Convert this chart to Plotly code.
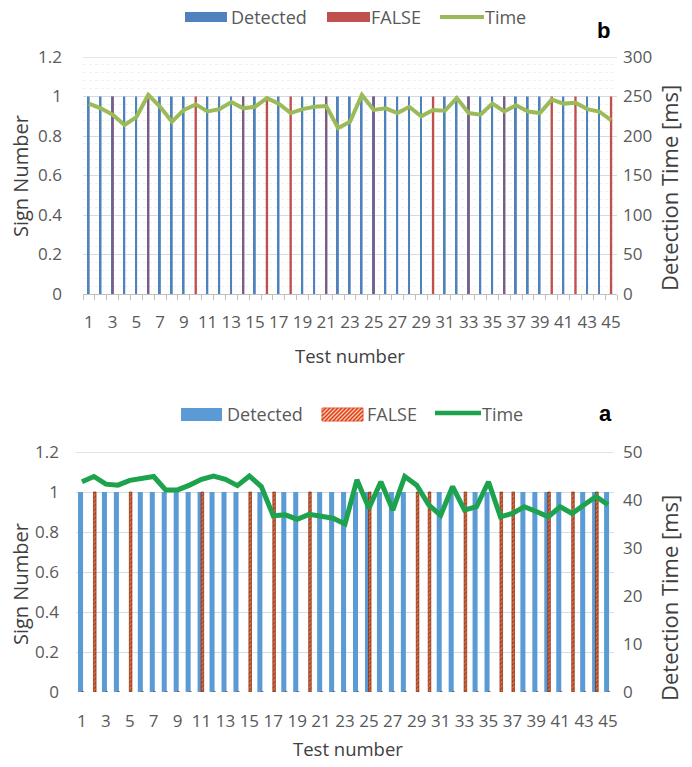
import plotly.graph_objects as go

# ---------------- data ----------------
tests = list(range(1, 46))
tick_labels = [str(n) for n in range(1, 46, 2)]

# panel b
b_detected = [1, 1, 1, 1, 1, 1, 1, 1, 1, 0, 1, 1, 1, 1, 1, 0, 1, 0, 1, 1, 1, 1, 1,
              1, 1, 1, 1, 1, 1, 0, 1, 1, 1, 1, 1, 1, 1, 1, 1, 0, 1, 0, 1, 1, 0]
b_false = [0, 0, 1, 0, 0, 1, 0, 0, 0, 1, 0, 0, 0, 1, 0, 1, 0, 1, 0, 0, 1, 0, 0,
           0, 1, 0, 0, 0, 0, 1, 0, 0, 1, 0, 0, 1, 0, 0, 0, 1, 0, 1, 0, 0, 1]
b_time = [241, 235, 227, 214, 224, 252, 237, 218, 233, 240, 231, 234, 243, 235, 237,
          248, 241, 229, 234, 237, 238, 210, 218, 252, 233, 235, 229, 237, 225, 233,
          232, 248, 229, 227, 241, 231, 239, 231, 229, 246, 241, 242, 234, 231, 220]

# panel a
a_detected = [1, 0, 1, 1, 0, 1, 1, 1, 1, 1, 1, 1, 1, 1, 0, 1, 0, 1, 1, 0, 1, 1, 1,
              1, 1, 1, 1, 1, 0, 0, 1, 1, 0, 1, 1, 0, 0, 1, 1, 1, 1, 0, 1, 1, 1]
a_false = [0, 1, 0, 0, 1, 0, 0, 0, 0, 0, 1, 0, 0, 0, 1, 0, 1, 0, 0, 1, 0, 0, 0,
           0, 1, 0, 0, 0, 1, 1, 0, 0, 1, 0, 0, 1, 1, 0, 0, 1, 0, 1, 0, 1, 0]
a_time = [43.8, 44.9, 43.3, 43.1, 44.1, 44.4, 44.9, 42.1, 42.1, 43.1, 44.3, 45.0, 44.3,
          43.0, 45.0, 42.8, 36.7, 36.9, 36.0, 37.0, 36.5, 36.2, 35.0, 44.2, 38.3, 43.8,
          37.9, 44.9, 43.1, 39.0, 36.8, 42.8, 37.9, 38.6, 43.8, 36.5, 37.2, 38.6, 37.6,
          36.5, 38.6, 37.2, 39.0, 40.7, 39.0]

series_names = ["Detected", "FALSE", "Time"]

# ---------------- styling ----------------
FONT = "Open Sans"
TICK_COLOR = "#595959"
TITLE_COLOR = "#404040"
W, H = 692, 767

B_BLUE, B_RED, B_MIX, B_GREEN = "#4F81BD", "#C0504D", "#7B5B87", "#9BBB59"
A_BLUE, A_GREEN = "#5B9BD5", "#1DA34D"
HATCH_BG, HATCH_FG = "#e9804c", "#7a1500"


def px_x(v):
    return v / W


def px_y(v):
    return 1 - v / H


fig = go.Figure()

# ---- panel b: bars and detection time ----
fig.add_trace(go.Bar(
    x=tests, y=b_detected, xaxis="x", yaxis="y",
    width=0.16, offset=-0.1, marker=dict(color=B_BLUE, line=dict(width=0)),
    showlegend=False, name=series_names[0]))
fig.add_trace(go.Bar(
    x=tests, y=b_false, xaxis="x", yaxis="y",
    width=0.2, offset=-0.1,
    marker=dict(color=[B_MIX if d else B_RED for d in b_detected], line=dict(width=0)),
    showlegend=False, name=series_names[1]))
fig.add_trace(go.Scatter(
    x=tests, y=b_time, xaxis="x", yaxis="y2", mode="lines",
    line=dict(color=B_GREEN, width=4), showlegend=False, name=series_names[2]))

# ---- panel a: bars and detection time ----
fig.add_trace(go.Bar(
    x=tests, y=a_detected, xaxis="x2", yaxis="y3",
    width=0.42, offset=-0.33, marker=dict(color=A_BLUE, line=dict(width=0)),
    showlegend=False, name=series_names[0]))
fig.add_trace(go.Bar(
    x=tests, y=a_false, xaxis="x2", yaxis="y3",
    width=0.22, offset=-0.04,
    marker=dict(color=HATCH_BG,
                pattern=dict(shape="/", fgcolor=HATCH_FG, bgcolor=HATCH_BG,
                             size=3, solidity=0.6),
                line=dict(color="#7a1500", width=0.6)),
    showlegend=False, name=series_names[1]))
fig.add_trace(go.Scatter(
    x=tests, y=a_time, xaxis="x2", yaxis="y4", mode="lines",
    line=dict(color=A_GREEN, width=5), showlegend=False, name=series_names[2]))

tick_font = dict(family=FONT, size=17, color=TICK_COLOR)
boundaries = [i + 0.5 for i in range(0, 46)]

top_dom = [px_y(294), px_y(57)]
bot_dom = [px_y(692), px_y(452)]

fig.update_layout(
    width=W, height=H,
    margin=dict(l=0, r=0, t=0, b=0),
    paper_bgcolor="white", plot_bgcolor="white",
    barmode="overlay", showlegend=False,
    font=dict(family=FONT, size=17, color=TICK_COLOR),
    xaxis=dict(domain=[px_x(83), px_x(617)], anchor="y", range=[0.5, 45.5],
               automargin=False,
               tickmode="array", tickvals=list(range(1, 46, 2)), ticktext=tick_labels,
               ticks="", showgrid=False, zeroline=False,
               showline=True, linecolor="#bfbfbf", linewidth=1,
               minor=dict(tickmode="array", tickvals=boundaries, ticks="outside",
                          ticklen=5, tickcolor="#bfbfbf", showgrid=False),
               tickfont=tick_font, ticklabelstandoff=13),
    yaxis=dict(domain=top_dom, anchor="x", range=[0, 1.2], dtick=0.2,
               automargin=False,
               showgrid=True, gridcolor="#d5dae2", zeroline=False,
               minor=dict(dtick=0.04, showgrid=True, gridcolor="#eef0f3",
                          griddash="dot"),
               tickfont=tick_font, ticklabelstandoff=20),
    yaxis2=dict(overlaying="y", side="right", anchor="x", range=[0, 300], dtick=50,
                automargin=False,
                showgrid=False, zeroline=False, tickfont=tick_font,
                ticklabelstandoff=5),
    xaxis2=dict(domain=[px_x(76), px_x(614)], anchor="y3", range=[0.5, 45.5],
                automargin=False,
                tickmode="array", tickvals=list(range(1, 46, 2)), ticktext=tick_labels,
                ticks="", showgrid=False, zeroline=False, showline=False,
                tickfont=tick_font, ticklabelstandoff=17),
    yaxis3=dict(domain=bot_dom, anchor="x2", range=[0, 1.2], dtick=0.2,
                automargin=False,
                showgrid=True, gridcolor="#cfdeea", zeroline=False,
                tickfont=tick_font, ticklabelstandoff=16),
    yaxis4=dict(overlaying="y3", side="right", anchor="x2", range=[0, 50], dtick=10,
                automargin=False,
                showgrid=False, zeroline=False, tickfont=tick_font,
                ticklabelstandoff=8),
)

# top gridline at 1.2 in grey for both panels
for xr, yr in (("x", "y"), ("x2", "y3")):
    fig.add_hline(y=1.2, line=dict(color="#c8c8c8", width=1), xref=xr, yref=yr)

# ---------------- legends (drawn as paper shapes + labels) ----------------
legend_font = dict(family=FONT, size=18, color=TICK_COLOR)


def rect(x0, x1, y0, y1, color):
    fig.add_shape(type="rect", xref="paper", yref="paper",
                  x0=px_x(x0), x1=px_x(x1), y0=px_y(y1), y1=px_y(y0),
                  fillcolor=color, line=dict(width=0))


def hline_swatch(x0, x1, y, color, width):
    fig.add_shape(type="line", xref="paper", yref="paper",
                  x0=px_x(x0), x1=px_x(x1), y0=px_y(y), y1=px_y(y),
                  line=dict(color=color, width=width))


def hatched(x0, x1, y0, y1, bg, fg, step=4.0):
    rect(x0, x1, y0, y1, bg)
    h = y1 - y0
    segs = []
    s = x0 - h
    while s < x1:
        # stripe from (s, y1) bottom-left to (s + h, y0) top-right, clipped to the box
        ax, ay, bx, by = s, y1, s + h, y0
        if ax < x0:
            ay -= (x0 - ax)
            ax = x0
        if bx > x1:
            by += (bx - x1)
            bx = x1
        if bx > ax:
            segs.append(f"M{px_x(ax)},{px_y(ay)} L{px_x(bx)},{px_y(by)}")
        s += step
    fig.add_shape(type="path", xref="paper", yref="paper", path=" ".join(segs),
                  line=dict(color=fg, width=1.6))
    fig.add_shape(type="rect", xref="paper", yref="paper",
                  x0=px_x(x0), x1=px_x(x1), y0=px_y(y1), y1=px_y(y0),
                  line=dict(color="#d8401c", width=0.8))


def label(text, x, y):
    fig.add_annotation(text=text, x=px_x(x), y=px_y(y), xref="paper", yref="paper",
                       showarrow=False, font=legend_font, xanchor="left",
                       yanchor="middle")


# panel b legend
rect(185, 227, 12, 22, B_BLUE)
label(series_names[0], 229, 17)
rect(327, 370, 12, 22, B_RED)
label(series_names[1], 369, 17)
hline_swatch(440, 484, 17, B_GREEN, 4)
label(series_names[2], 483, 17)

# panel a legend
rect(181, 222, 408, 421, A_BLUE)
label(series_names[0], 225, 414)
hatched(322, 363, 408, 421, "#fbd2b8", "#e0401a")
label(series_names[1], 365, 414)
hline_swatch(435, 481, 413, A_GREEN, 4.5)
label(series_names[2], 480, 414)

# ---------------- axis titles and panel letters ----------------
annotations = [
    ("Sign Number", 20, 176, -90, 20),
    ("Detection Time [ms]", 669, 188, -90, 22),
    ("Test number", 350, 355, 0, 18.5),
    ("Sign Number", 20, 584, -90, 20),
    ("Detection Time [ms]", 669, 598, -90, 22),
    ("Test number", 348, 748, 0, 18.5),
]
for text, x, y, ang, size in annotations:
    fig.add_annotation(text=text, x=px_x(x), y=px_y(y), xref="paper", yref="paper",
                       showarrow=False, textangle=ang,
                       font=dict(family=FONT, size=size, color=TITLE_COLOR),
                       xanchor="center", yanchor="middle")

for text, x, y in [("b", 603, 30), ("a", 605, 413)]:
    fig.add_annotation(text=f"<b>{text}</b>", x=px_x(x), y=px_y(y), xref="paper",
                       yref="paper", showarrow=False,
                       font=dict(family="Liberation Sans", size=22, color="black"),
                       xanchor="center", yanchor="middle")

fig.write_html("out.html")
